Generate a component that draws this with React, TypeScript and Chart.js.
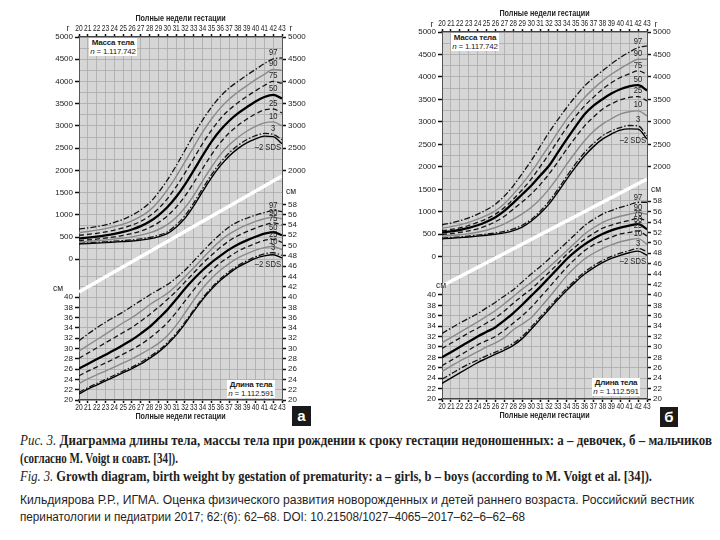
import React, { useEffect, useLayoutEffect, useRef } from "react";
import { Chart, registerables } from "chart.js";
Chart.register(...registerables);

// ---------- data ----------
const weeks = [20, 21, 22, 23, 24, 25, 26, 27, 28, 29, 30, 31, 32, 33, 34, 35, 36, 37, 38, 39, 40, 41, 42, 43];
const curveNames = ["97", "90", "75", "50", "25", "10", "3", "–2 SDS"];
const axisTitle = "Полные недели гестации";

// Panel а (girls) – birth weight, g
const gW97 = [680, 705, 735, 775, 830, 900, 990, 1110, 1270, 1500, 1780, 2100, 2450, 2800, 3130, 3420, 3660, 3850, 4000, 4140, 4270, 4400, 4510, 4530];
const gW90 = [600, 625, 655, 690, 735, 790, 865, 965, 1100, 1300, 1560, 1860, 2190, 2530, 2860, 3150, 3400, 3600, 3760, 3900, 4040, 4160, 4270, 4250];
const gW75 = [540, 560, 585, 615, 655, 705, 770, 855, 975, 1140, 1360, 1630, 1940, 2270, 2600, 2900, 3160, 3360, 3520, 3660, 3790, 3910, 4000, 3960];
const gW50 = [470, 488, 510, 538, 572, 615, 670, 745, 850, 990, 1170, 1400, 1680, 2000, 2330, 2640, 2900, 3110, 3280, 3420, 3550, 3650, 3700, 3620];
const gW25 = [420, 436, 455, 478, 505, 538, 580, 635, 715, 825, 975, 1170, 1420, 1720, 2040, 2350, 2620, 2840, 3010, 3150, 3270, 3360, 3380, 3290];
const gW10 = [390, 403, 418, 435, 455, 478, 505, 543, 595, 670, 780, 940, 1160, 1440, 1760, 2070, 2350, 2570, 2740, 2880, 2990, 3070, 3090, 3000];
const gW3 = [360, 370, 382, 394, 407, 421, 437, 458, 490, 540, 615, 770, 980, 1270, 1590, 1900, 2170, 2390, 2560, 2690, 2780, 2830, 2810, 2690];
const gWsds = [345, 354, 364, 375, 387, 399, 413, 432, 460, 505, 575, 720, 920, 1200, 1520, 1830, 2100, 2320, 2490, 2620, 2710, 2770, 2760, 2600];

// Panel а (girls) – body length, cm
const gL97 = [31.5, 32.8, 34.0, 35.1, 36.1, 37.1, 38.2, 39.3, 40.4, 41.4, 42.4, 43.7, 45.2, 47.0, 48.8, 50.6, 52.2, 53.6, 54.6, 55.3, 55.9, 56.4, 56.8, 56.6];
const gL90 = [29.5, 30.6, 31.7, 32.8, 33.9, 35.0, 36.0, 37.2, 38.5, 39.6, 40.7, 42.2, 43.9, 45.7, 47.5, 49.3, 50.9, 52.2, 53.2, 54.0, 54.7, 55.2, 55.5, 55.2];
const gL75 = [28.1, 29.1, 30.1, 31.1, 32.1, 33.1, 34.1, 35.3, 36.6, 38.0, 39.5, 41.1, 42.9, 44.7, 46.5, 48.1, 49.6, 50.9, 51.9, 52.7, 53.4, 54.0, 54.4, 54.0];
const gL50 = [26.1, 27.0, 27.9, 28.8, 29.7, 30.7, 31.7, 32.9, 34.2, 35.8, 37.5, 39.5, 41.6, 43.5, 45.2, 46.7, 48.0, 49.2, 50.2, 51.0, 51.7, 52.3, 52.6, 52.0];
const gL25 = [24.7, 25.6, 26.4, 27.2, 28.0, 28.9, 29.8, 30.8, 32.0, 33.4, 35.0, 37.0, 39.2, 41.4, 43.4, 45.1, 46.6, 47.8, 48.9, 49.7, 50.4, 51.0, 51.2, 50.6];
const gL10 = [23.2, 24.1, 24.9, 25.6, 26.4, 27.2, 28.0, 28.9, 29.9, 31.0, 32.5, 34.5, 36.9, 39.4, 41.7, 43.6, 45.2, 46.5, 47.6, 48.4, 49.1, 49.6, 49.8, 49.2];
const gL3 = [21.5, 22.4, 23.2, 24.0, 24.8, 25.6, 26.4, 27.3, 28.4, 29.6, 31.1, 32.9, 35.1, 37.5, 39.8, 41.8, 43.5, 44.9, 46.1, 47.0, 47.8, 48.4, 48.6, 48.1];
const gLsds = [21.2, 22.1, 22.9, 23.7, 24.5, 25.3, 26.1, 27.0, 28.1, 29.3, 30.8, 32.6, 34.8, 37.2, 39.5, 41.5, 43.2, 44.6, 45.8, 46.7, 47.5, 48.0, 48.2, 47.6];

// Panel б (boys) – birth weight, g
const bW97 = [711, 750, 800, 865, 948, 1045, 1170, 1350, 1578, 1850, 2134, 2450, 2764, 3050, 3320, 3570, 3801, 3980, 4135, 4290, 4431, 4550, 4653, 4690];
const bW90 = [637, 670, 710, 765, 837, 920, 1023, 1180, 1393, 1620, 1875, 2170, 2468, 2770, 3060, 3310, 3542, 3740, 3912, 4060, 4187, 4300, 4394, 4394];
const bW75 = [578, 608, 643, 695, 763, 845, 948, 1095, 1282, 1490, 1726, 2000, 2282, 2580, 2875, 3130, 3357, 3550, 3727, 3870, 3987, 4070, 4135, 4060];
const bW50 = [540, 565, 595, 640, 700, 780, 880, 1020, 1200, 1390, 1578, 1800, 2023, 2320, 2616, 2900, 3171, 3360, 3505, 3630, 3727, 3790, 3816, 3700];
const bW25 = [495, 515, 540, 575, 620, 690, 780, 900, 1060, 1220, 1393, 1600, 1838, 2110, 2393, 2660, 2912, 3110, 3283, 3400, 3490, 3545, 3564, 3468];
const bW10 = [455, 472, 490, 515, 545, 590, 650, 730, 837, 955, 1097, 1280, 1504, 1770, 2060, 2330, 2579, 2790, 2949, 3070, 3171, 3225, 3246, 3134];
const bW3 = [415, 428, 442, 460, 480, 505, 530, 565, 620, 700, 830, 1010, 1230, 1500, 1790, 2070, 2320, 2520, 2690, 2800, 2875, 2920, 2912, 2690];
const bWsds = [400, 412, 425, 440, 458, 478, 500, 530, 580, 660, 790, 960, 1171, 1440, 1727, 2000, 2245, 2450, 2616, 2730, 2816, 2845, 2838, 2616];

// Panel б (boys) – body length, cm
const bL97 = [32.6, 33.6, 34.6, 35.5, 36.4, 37.5, 38.6, 39.8, 41.0, 42.5, 44.0, 45.4, 46.9, 48.5, 50.1, 51.7, 53.3, 54.5, 55.5, 56.2, 56.8, 57.3, 57.8, 57.8];
const bL90 = [30.8, 31.8, 32.8, 33.8, 34.8, 35.9, 37.0, 38.3, 39.7, 41.1, 42.4, 43.8, 45.3, 46.9, 48.5, 50.1, 51.7, 52.9, 53.9, 54.6, 55.1, 55.5, 55.8, 55.5];
const bL75 = [29.7, 30.7, 31.7, 32.7, 33.6, 34.6, 35.6, 36.9, 38.4, 39.8, 41.1, 42.7, 44.3, 46.0, 47.8, 49.3, 50.7, 51.8, 52.8, 53.4, 53.9, 54.3, 54.7, 54.2];
const bL50 = [28.0, 29.0, 30.0, 31.0, 32.0, 32.9, 33.8, 35.1, 36.5, 38.1, 39.8, 41.5, 43.3, 45.1, 46.9, 48.4, 49.7, 50.8, 51.7, 52.4, 52.9, 53.3, 53.6, 52.6];
const bL25 = [26.4, 27.4, 28.4, 29.4, 30.4, 31.2, 32.0, 33.2, 34.6, 36.0, 37.6, 39.5, 41.4, 43.4, 45.3, 47.0, 48.5, 49.6, 50.4, 51.1, 51.7, 52.0, 52.3, 51.3];
const bL10 = [25.3, 26.3, 27.3, 28.2, 29.1, 30.0, 30.8, 31.8, 33.3, 34.4, 35.6, 37.5, 39.5, 41.6, 43.7, 45.4, 46.9, 48.0, 48.9, 49.6, 50.2, 50.6, 50.8, 49.7];
const bL3 = [23.8, 24.8, 25.8, 26.7, 27.5, 28.3, 29.0, 29.8, 30.7, 32.0, 33.8, 35.7, 37.6, 39.5, 41.3, 42.9, 44.4, 45.6, 46.6, 47.4, 48.0, 48.5, 48.9, 48.3];
const bLsds = [23.0, 24.0, 25.0, 26.0, 27.0, 27.8, 28.6, 29.4, 30.3, 31.6, 33.4, 35.3, 37.2, 39.1, 40.9, 42.5, 44.0, 45.2, 46.2, 47.0, 47.6, 48.1, 48.4, 47.6];

// white separating band (weight-axis values at week 20 and week 43)
const diagA = [-735, 1874];
const diagB = [-651, 1729];

// tick labels
const weightLabelsLeft = [0, 500, 1000, 1500, 2000, 2500, 3000, 3500, 4000, 4500, 5000];
const weightLabelsRight = [2000, 2500, 3000, 3500, 4000, 4500, 5000];
const lengthLabelsLeft = [20, 22, 24, 26, 28, 30, 32, 34, 36, 38, 40];
const lengthLabelsRight = [20, 22, 24, 26, 28, 30, 32, 34, 36, 38, 40, 42, 44, 46, 48, 50, 52, 54, 56, 58];

// ---------- scale geometry ----------
const W_MIN = -3165, W_MAX = 5000, L_MIN = 20, L_MAX = 90.5;
const l2w = (l: number) => W_MIN + ((l - L_MIN) / (L_MAX - L_MIN)) * (W_MAX - W_MIN);

const SANS = "'Liberation Sans', Arial, sans-serif";
const SERIF = "'Liberation Serif', 'Times New Roman', serif";
const GRID = "#a9a9a9";
const BG = "#d6d6d6";
const TXT = "#222";

const curveStyles = [
  { color: "#151515", width: 1.3, dash: [6, 2, 1.5, 2] },
  { color: "#8a8a8a", width: 1.4, dash: [] },
  { color: "#151515", width: 1.3, dash: [5, 3] },
  { color: "#000000", width: 2.3, dash: [] },
  { color: "#151515", width: 1.3, dash: [5, 3] },
  { color: "#8a8a8a", width: 1.4, dash: [] },
  { color: "#151515", width: 1.3, dash: [6, 2, 1.5, 2] },
  { color: "#000000", width: 1.4, dash: [] },
];

function leftTicks() {
  const t: any[] = [];
  for (let w = 0; w <= 5000; w += 250) {
    const lab = weightLabelsLeft.includes(w);
    t.push({ value: w, lbl: lab ? String(w) : "", mark: lab, grid: true });
  }
  for (let l = 20; l <= 46; l += 2) {
    const lab = lengthLabelsLeft.includes(l);
    t.push({ value: l2w(l), lbl: lab ? String(l) : "", mark: lab, grid: true });
  }
  return t;
}
function rightTicks() {
  const t: any[] = [];
  weightLabelsRight.forEach((w) => t.push({ value: w, lbl: String(w), mark: true }));
  lengthLabelsRight.forEach((l) => t.push({ value: l2w(l), lbl: String(l), mark: true }));
  return t;
}

function condensed(ctx: any, text: string, x: number, y: number, font: string, sx: number, align: string) {
  ctx.save();
  ctx.font = font;
  ctx.textBaseline = "middle";
  ctx.textAlign = align;
  ctx.translate(x, y);
  ctx.scale(sx, 1);
  ctx.fillText(text, 0, 0);
  ctx.restore();
}

const bgPlugin = {
  id: "plotBg",
  beforeDraw(chart: any) {
    const { ctx, chartArea } = chart;
    ctx.save();
    ctx.fillStyle = BG;
    ctx.fillRect(chartArea.left, chartArea.top, chartArea.right - chartArea.left, chartArea.bottom - chartArea.top);
    ctx.restore();
  },
};

function makeLabelPlugin(weight: number[][], length: number[][]) {
  return {
    id: "curveLabels",
    afterDraw(chart: any) {
      const { ctx, chartArea } = chart;
      const xs = chart.scales.x;
      const idx = weeks.indexOf(42);
      ctx.save();
      ctx.fillStyle = TXT;
      // week labels (top and bottom) and axis titles
      weeks.forEach((w) => {
        const x = xs.getPixelForValue(w);
        condensed(ctx, String(w), x, chartArea.top - 8.5, `9px ${SANS}`, 0.74, "center");
        condensed(ctx, String(w), x, chartArea.bottom + 7.5, `9px ${SANS}`, 0.74, "center");
      });
      const cx = (chartArea.left + chartArea.right) / 2;
      condensed(ctx, axisTitle, cx, chartArea.top - 18.5, `bold 9px ${SANS}`, 0.8, "center");
      condensed(ctx, axisTitle, cx, chartArea.bottom + 16.5, `bold 9px ${SANS}`, 0.8, "center");
      // curve labels
      const draw = (sets: number[][], scale: any, up: number, down: number) => {
        sets.forEach((arr, i) => {
          const y = scale.getPixelForValue(arr[idx]);
          if (i < 7) condensed(ctx, curveNames[i], xs.getPixelForValue(42), y + up, `9.5px ${SANS}`, 0.8, "center");
          else condensed(ctx, curveNames[i], chartArea.right - 1, y + down, `9.5px ${SANS}`, 0.8, "right");
        });
      };
      draw(weight, chart.scales.yW, -6, 11);
      draw(length, chart.scales.yL, -5, 10);
      ctx.restore();
    },
  };
}

function makeDatasets(weight: number[][], length: number[][], diag: number[]) {
  const ds: any[] = [];
  const add = (arr: number[], i: number, axis: string) => {
    const st = curveStyles[i];
    ds.push({
      data: weeks.map((w, k) => ({ x: w, y: arr[k] })),
      yAxisID: axis,
      xAxisID: "x",
      borderColor: st.color,
      borderWidth: st.width,
      borderDash: st.dash,
      pointRadius: 0,
      cubicInterpolationMode: "monotone",
      fill: false,
      order: i === 3 ? 0 : 1,
    });
  };
  weight.forEach((a, i) => add(a, i, "yW"));
  length.forEach((a, i) => add(a, i, "yL"));
  ds.push({
    data: [
      { x: weeks[0], y: diag[0] },
      { x: weeks[weeks.length - 1], y: diag[1] },
    ],
    yAxisID: "yW",
    xAxisID: "x",
    borderColor: "#ffffff",
    borderWidth: 3.5,
    pointRadius: 0,
    fill: false,
    order: 10,
  });
  return ds;
}

const tickFont = { family: SANS, size: 8 };

function xAxis(position: "top" | "bottom") {
  return {
    type: "linear",
    axis: "x",
    position,
    min: 20,
    max: 43,
    afterFit: (s: any) => {
      s.height = position === "top" ? 32 : 28;
    },
    ticks: {
      stepSize: 1,
      autoSkip: false,
      maxRotation: 0,
      minRotation: 0,
      padding: 0,
      color: TXT,
      font: tickFont,
      callback: () => "",
    },
    grid: {
      display: true,
      drawOnChartArea: position === "bottom",
      color: GRID,
      lineWidth: 0.8,
      tickLength: 3,
      tickColor: "#111",
      tickWidth: 1.5,
    },
    border: { color: "#444", width: 1.2 },
    title: { display: false },
  };
}

function Panel(props: any) {
  const { left, top, width, height, weight, length, diag } = props;
  const ref = useRef<HTMLCanvasElement>(null);
  useEffect(() => {
    const lt = leftTicks();
    const rt = rightTicks();
    const chart = new Chart(ref.current as HTMLCanvasElement, {
      type: "line",
      data: { datasets: makeDatasets(weight, length, diag) },
      plugins: [bgPlugin, makeLabelPlugin(weight, length)],
      options: {
        responsive: false,
        animation: false,
        events: [],
        layout: { padding: 0 },
        plugins: { legend: { display: false }, tooltip: { enabled: false } },
        scales: {
          x: xAxis("bottom"),
          x2: xAxis("top"),
          yW: {
            type: "linear",
            axis: "y",
            position: "left",
            min: W_MIN,
            max: W_MAX,
            afterBuildTicks: (s: any) => {
              s.ticks = lt;
            },
            afterFit: (s: any) => {
              s.width = 49;
            },
            ticks: {
              autoSkip: false,
              padding: 2,
              color: TXT,
              font: tickFont,
              callback: (_v: any, i: number, t: any[]) => (t[i] ? t[i].lbl : ""),
            },
            grid: {
              color: (c: any) => (c.tick && c.tick.grid ? GRID : "rgba(0,0,0,0)"),
              lineWidth: 0.8,
              tickLength: 4,
              tickColor: (c: any) => (c.tick && c.tick.mark ? "#111" : "rgba(0,0,0,0)"),
              tickWidth: 1.5,
            },
            border: { color: "#555", width: 1 },
          },
          yR: {
            type: "linear",
            axis: "y",
            position: "right",
            min: W_MIN,
            max: W_MAX,
            afterBuildTicks: (s: any) => {
              s.ticks = rt;
            },
            afterFit: (s: any) => {
              s.width = 38;
            },
            ticks: {
              autoSkip: false,
              padding: 2,
              color: TXT,
              font: tickFont,
              callback: (_v: any, i: number, t: any[]) => (t[i] ? t[i].lbl : ""),
            },
            grid: {
              drawOnChartArea: false,
              tickLength: 4,
              tickColor: "#111",
              tickWidth: 1.5,
            },
            border: { color: "#555", width: 1 },
          },
          yL: { type: "linear", axis: "y", position: "left", display: false, min: L_MIN, max: L_MAX },
        },
      } as any,
    } as any);
    return () => chart.destroy();
  }, []);
  return (
    <canvas
      ref={ref}
      width={width}
      height={height}
      style={{ position: "absolute", left, top, width, height }}
    />
  );
}

function Txt(props: any) {
  const { x, y, size = 8.5, children } = props;
  return (
    <div
      style={{
        position: "absolute",
        left: x,
        top: y,
        transform: "translate(-50%, -50%)",
        fontFamily: SANS,
        fontSize: size,
        color: TXT,
        whiteSpace: "nowrap",
        lineHeight: 1,
      }}
    >
      {children}
    </div>
  );
}

function InfoBox(props: any) {
  const { left, top, title, n } = props;
  return (
    <div
      style={{
        position: "absolute",
        left,
        top,
        width: 48,
        height: 18,
        background: "#fff",
        fontFamily: SANS,
        fontSize: 8,
        lineHeight: "8.5px",
        color: TXT,
        textAlign: "center",
        paddingTop: 1,
        boxSizing: "border-box",
        whiteSpace: "nowrap",
        letterSpacing: "-0.25px",
      }}
    >
      <b>{title}</b>
      <br />
      <i>n</i> = {n}
    </div>
  );
}

function LetterBox(props: any) {
  const { left, top, w, h, children } = props;
  return (
    <div
      style={{
        position: "absolute",
        left,
        top,
        width: w,
        height: h,
        background: "#1a1a1a",
        color: "#fff",
        fontFamily: SANS,
        fontWeight: "bold",
        fontSize: 15,
        lineHeight: `${h}px`,
        textAlign: "center",
      }}
    >
      {children}
    </div>
  );
}

function FitLine(props: any) {
  const { left, top, width, children, style } = props;
  const ref = useRef<HTMLDivElement>(null);
  useLayoutEffect(() => {
    const el = ref.current;
    if (!el) return;
    el.style.transform = "none";
    const w = el.getBoundingClientRect().width;
    if (w > 0) el.style.transform = `scaleX(${width / w})`;
  });
  return (
    <div
      ref={ref}
      style={{
        position: "absolute",
        left,
        top,
        whiteSpace: "nowrap",
        transformOrigin: "0 0",
        color: "#1e1e1e",
        ...style,
      }}
    >
      {children}
    </div>
  );
}

export default function App() {
  const capStyle = { fontFamily: SERIF, fontSize: 14.5, lineHeight: "16px" };
  const citeStyle = { fontFamily: SANS, fontSize: 12.5, lineHeight: "14px" };
  return (
    <div style={{ position: "absolute", left: 0, top: 0, width: 720, height: 540, background: "#fff", overflow: "hidden" }}>
      <Panel left={30} top={5} width={290} height={423} weight={[gW97, gW90, gW75, gW50, gW25, gW10, gW3, gWsds]} length={[gL97, gL90, gL75, gL50, gL25, gL10, gL3, gLsds]} diag={diagA} />
      <Panel left={393} top={0} width={292} height={427} weight={[bW97, bW90, bW75, bW50, bW25, bW10, bW3, bWsds]} length={[bL97, bL90, bL75, bL50, bL25, bL10, bL3, bLsds]} diag={diagB} />

      <Txt x={68} y={28}>г</Txt>
      <Txt x={291} y={28}>г</Txt>
      <Txt x={58} y={288}>см</Txt>
      <Txt x={291} y={191}>см</Txt>
      <Txt x={432} y={24}>г</Txt>
      <Txt x={656} y={24}>г</Txt>
      <Txt x={441} y={285}>см</Txt>
      <Txt x={656} y={189}>см</Txt>

      <InfoBox left={89} top={38} title="Масса тела" n="1.117.742" />
      <InfoBox left={227} top={380} title="Длина тела" n="1.112.591" />
      <InfoBox left={451} top={33} title="Масса тела" n="1.117.742" />
      <InfoBox left={592} top={378} title="Длина тела" n="1.112.591" />

      <LetterBox left={292} top={406} w={19} h={20}>а</LetterBox>
      <LetterBox left={660} top={407} w={18} h={20}>б</LetterBox>

      <FitLine left={20} top={432} width={692} style={capStyle}>
        <i>Рис. 3.</i> <b>Диаграмма длины тела, массы тела при рождении к сроку гестации недоношенных: а – девочек, б – мальчиков</b>
      </FitLine>
      <FitLine left={20} top={450} width={158} style={capStyle}>
        <b>(согласно M. Voigt и соавт. [34]).</b>
      </FitLine>
      <FitLine left={20} top={468} width={632} style={capStyle}>
        <i>Fig. 3.</i> <b>Growth diagram, birth weight by gestation of prematurity: a – girls, b – boys (according to M. Voigt et al. [34]).</b>
      </FitLine>
      <FitLine left={20} top={493} width={674} style={citeStyle}>
        Кильдиярова Р.Р., ИГМА. Оценка физического развития новорожденных и детей раннего возраста. Российский  вестник
      </FitLine>
      <FitLine left={20} top={510} width={505} style={citeStyle}>
        перинатологии и педиатрии 2017; 62:(6): 62–68. DOI: 10.21508/1027–4065–2017–62–6–62–68
      </FitLine>
    </div>
  );
}
